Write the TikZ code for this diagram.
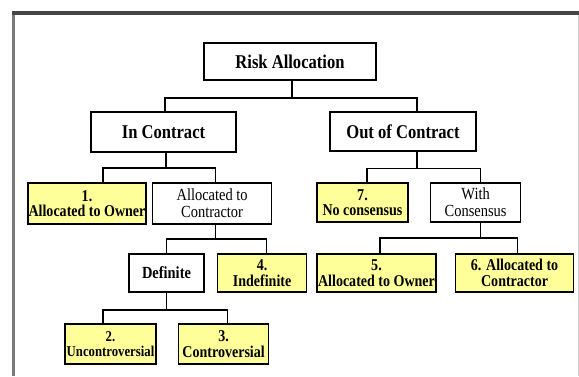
\documentclass[tikz,border=0pt]{standalone}
\usepackage{fontspec}
\setmainfont{Liberation Serif}[FakeStretch=0.85]
\usepackage{tikz}
\usetikzlibrary{positioning}
\definecolor{cYellow}{RGB}{255,255,153}
\definecolor{cFrame}{RGB}{120,120,120}
\definecolor{cFrameDk}{RGB}{70,70,70}
\definecolor{cFrameLt}{RGB}{205,205,205}
\tikzset{
	head/.style ={rectangle, draw=black, line width=1.6pt, fill=white, align=center, inner sep=0pt, font=\bfseries\fontsize{19.5}{20}\selectfont},
	plain/.style={rectangle, draw=black, line width=1.6pt, fill=white, align=center, inner sep=0pt, font=\fontsize{17}{17}\selectfont},
	leaf/.style ={plain, fill=cYellow, font=\bfseries\fontsize{16.5}{15.5}\selectfont},
	wire/.style ={line width=1.6pt, black},
}
\begin{document}
\begin{tikzpicture}[x=1pt, y=-1pt]
	\useasboundingbox (0,0) rectangle (579,376);
	\fill[white] (0,0) rectangle (579,376);
	% frame
	\draw[cFrameLt, line width=1pt] (578,13) -- (578,376);
	\draw[cFrame, line width=3pt] (13.5,12) -- (13.5,376);
	\draw[cFrameDk, line width=4pt] (12,13) -- (579,13);
	% top levels
	\node[head, minimum width=172pt, minimum height=37pt] (ra) at (290,61.5) {Risk Allocation};
	\node[head, minimum width=145pt, minimum height=40pt] (inc) at (163.5,132) {In Contract};
	\node[head, minimum width=146pt, minimum height=39pt] (outc) at (403,131.5) {Out of Contract};
	% in contract branch
	\node[leaf, minimum width=118pt, minimum height=41pt] (own1) at (87,203.5) {1.\\Allocated to Owner};
	\node[plain, minimum width=119pt, minimum height=41pt, right=5pt of own1] (alc) {Allocated to\\Contractor};
	\node[plain, minimum width=75pt, minimum height=38pt, font=\bfseries\fontsize{17}{15}\selectfont] (defi) at (166.5,273) {Definite};
	\node[leaf, minimum width=89pt, minimum height=38pt, right=12pt of defi] (indef) {4.\\Indefinite};
	\node[leaf, minimum width=91pt, minimum height=40pt, font=\bfseries\fontsize{15}{15}\selectfont] (unc) at (110.5,344) {2.\\Uncontroversial};
	\node[leaf, minimum width=90pt, minimum height=40pt, right=21pt of unc] (contr) {3.\\Controversial};
	% out of contract branch
	\node[leaf, minimum width=91pt, minimum height=39pt] (nocon) at (362.5,202.5) {7.\\No consensus};
	\node[plain, minimum width=90pt, minimum height=39pt, right=21pt of nocon] (wcon) {With\\Consensus};
	\node[leaf, minimum width=119pt, minimum height=38pt] (own5) at (376.5,273) {5.\\Allocated to Owner};
	\node[leaf, minimum width=118pt, minimum height=38pt, right=18pt of own5] (con6) {6. Allocated to\\Contractor};
	% connectors
	\draw[wire] ([xshift=2pt]ra.south) -- ++(0,17) -| ([xshift=1.5pt]inc.north);
	\draw[wire] ([xshift=2pt]ra.south) -- ++(0,17) -| ([xshift=14pt]outc.north);
	\draw[wire] ([xshift=2.5pt]inc.south) -- ++(0,15) -| ([xshift=16pt]own1.north);
	\draw[wire] ([xshift=2.5pt]inc.south) -- ++(0,15) -| ([xshift=3.5pt]alc.north);
	\draw[wire] ([xshift=14pt]outc.south) -- ++(0,16.5) -| ([xshift=4.5pt]nocon.north);
	\draw[wire] ([xshift=14pt]outc.south) -- ++(0,16.5) -| ([xshift=5pt]wcon.north);
	\draw[wire] ([xshift=3.5pt]alc.south) -- ++(0,14) -| (defi.north);
	\draw[wire] ([xshift=3.5pt]alc.south) -- ++(0,14) -| ([xshift=4.5pt]indef.north);
	\draw[wire] ([xshift=5pt]wcon.south) -- ++(0,15) -| ([xshift=3.5pt]own5.north);
	\draw[wire] ([xshift=5pt]wcon.south) -- ++(0,15) -| ([xshift=3pt]con6.north);
	\draw[wire] (defi.south) -- ++(0,17) -| ([xshift=-7.5pt]unc.north);
	\draw[wire] (defi.south) -- ++(0,17) -| ([xshift=4pt]contr.north);
\end{tikzpicture}
\end{document}
